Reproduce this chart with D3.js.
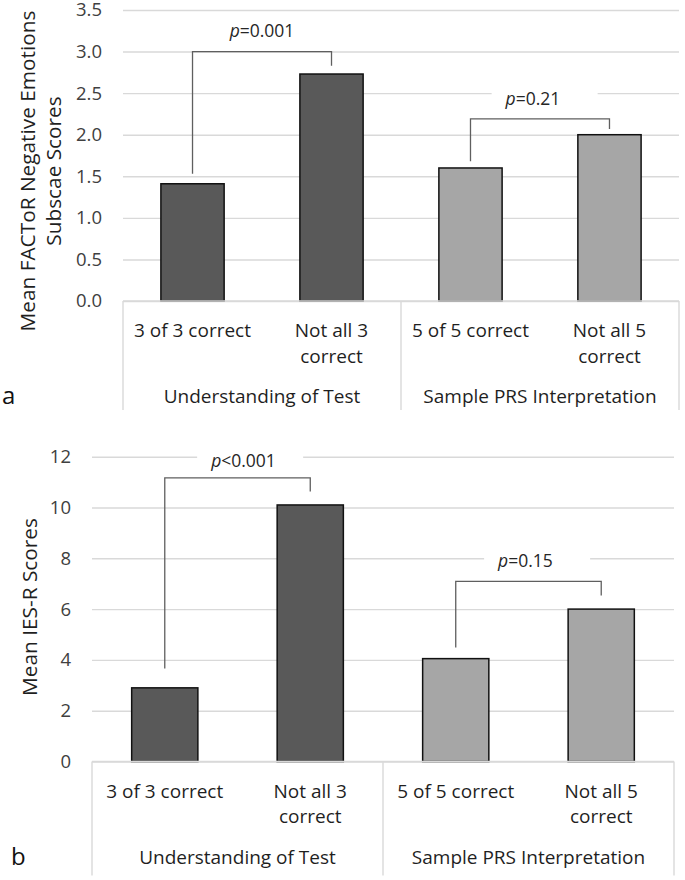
<!DOCTYPE html>
<html>
<head>
<meta charset="utf-8">
<script src="https://cdn.jsdelivr.net/npm/d3@7/dist/d3.min.js"></script>
<style>
  html, body { margin: 0; padding: 0; background: #fff; }
  svg { display: block; font-family: 'Open Sans', sans-serif; }
</style>
</head>
<body>
<svg id="chart" width="685" height="880"></svg>
<script>
// ---- data ----
const categories = ["3 of 3 correct", "Not all 3 correct", "5 of 5 correct", "Not all 5 correct"];
const categoryLines = [["3 of 3 correct"], ["Not all 3", "correct"], ["5 of 5 correct"], ["Not all 5", "correct"]];
const groups = ["Understanding of Test", "Sample PRS Interpretation"];
const groupOfCategory = [0, 0, 1, 1];

const factorValues = [1.41, 2.73, 1.60, 2.00];
const factorTicks = [0, 0.5, 1.0, 1.5, 2.0, 2.5, 3.0, 3.5];
const factorTitle = ["Mean FACToR Negative Emotions", "Subscae Scores"];
const factorPValues = ["p=0.001", "p=0.21"];
// brackets: [leftBottom, top, rightBottom, label level] in data units
const factorBrackets = [[1.53, 3.0, 2.83, 3.25], [1.68, 2.19, 2.07, 2.43]];

const iesValues = [2.9, 10.1, 4.05, 6.0];
const iesTicks = [0, 2, 4, 6, 8, 10, 12];
const iesTitle = ["Mean IES-R Scores"];
const iesPValues = ["p<0.001", "p=0.15"];
const iesBrackets = [[3.66, 11.17, 10.63, 11.85], [4.49, 7.09, 6.54, 7.91]];

const barColors = ["#595959", "#595959", "#a6a6a6", "#a6a6a6"];

const svg = d3.select("#chart");

function drawPanel(cfg) {
  const g = svg.append("g");
  const x = d3.scaleBand().domain(categories).range([cfg.left, cfg.right])
    .paddingInner(0.545).paddingOuter(0.2727);
  const xStep = d3.scaleBand().domain(categories).range([cfg.left, cfg.right]).padding(0);
  const y = d3.scaleLinear().domain([0, cfg.max]).range([cfg.bottom, cfg.top]);

  // gridlines + tick labels
  const axis = d3.axisLeft(y).tickValues(cfg.ticks)
    .tickFormat(cfg.fmt).tickSize(0).tickPadding(cfg.right - cfg.labelRight);
  const ag = g.append("g").attr("transform", `translate(${cfg.right},0)`).call(axis);
  ag.select(".domain").remove();
  ag.selectAll(".tick line").attr("stroke", "#d9d9d9").attr("stroke-width", 1.4)
    .attr("x1", 0).attr("x2", -(cfg.right - cfg.left));
  ag.selectAll(".tick text").attr("fill", "#404040").style("font-size", "18.5px")
    .style("font-family", "'Open Sans', sans-serif");

  // p-value labels with white text boxes
  cfg.brackets.forEach((b, i) => {
    const cx = (x(categories[2 * i]) + x(categories[2 * i + 1]) + x.bandwidth()) / 2 - cfg.labelShift[i];
    const lg = g.append("g");
    const t = lg.append("text").attr("x", cx).attr("y", y(b[3])).attr("dy", "0.35em")
      .attr("text-anchor", "middle").attr("fill", "#262626").style("font-size", "17.5px");
    t.append("tspan").style("font-style", "italic").text(cfg.pvals[i].charAt(0));
    t.append("tspan").text(cfg.pvals[i].slice(1));
    const w = t.node().getComputedTextLength();
    lg.insert("rect", ":first-child").attr("x", cx - w / 2 - 14).attr("y", y(b[3]) - 13)
      .attr("width", 106).attr("height", 26).attr("fill", "#fff");
  });

  // bars
  g.selectAll("rect.bar").data(cfg.values).enter().append("rect").attr("class", "bar")
    .attr("x", (d, i) => x(categories[i]))
    .attr("y", d => y(d))
    .attr("width", x.bandwidth())
    .attr("height", d => y(0) - y(d))
    .attr("fill", (d, i) => barColors[i])
    .attr("stroke", "#111").attr("stroke-width", 1.5);

  // brackets
  cfg.brackets.forEach((b, i) => {
    const xl = x(categories[2 * i]) + x.bandwidth() / 2;
    const xr = x(categories[2 * i + 1]) + x.bandwidth() / 2;
    g.append("path")
      .attr("d", `M${xl},${y(b[0])}V${y(b[1])}H${xr}V${y(b[2])}`)
      .attr("fill", "none").attr("stroke", "#5f5f5f").attr("stroke-width", 1.3);
  });

  // category axis box
  const boxBottom = cfg.bottom + cfg.boxDepth;
  const line = (x1, y1, x2, y2) => g.append("line").attr("x1", x1).attr("y1", y1).attr("x2", x2).attr("y2", y2)
    .attr("stroke", "#d9d9d9").attr("stroke-width", 1.4);
  line(cfg.left, cfg.bottom, cfg.right, cfg.bottom);
  line(cfg.left, cfg.bottom, cfg.left, boxBottom);
  line(xStep(categories[2]), cfg.bottom, xStep(categories[2]), boxBottom);
  line(cfg.right, cfg.bottom, cfg.right, boxBottom);

  // category labels
  categoryLines.forEach((lines, i) => {
    const cx = xStep(categories[i]) + xStep.bandwidth() / 2;
    lines.forEach((s, j) => {
      g.append("text").attr("x", cx).attr("y", cfg.bottom + 36 + j * 25.5)
        .attr("text-anchor", "middle").attr("fill", "#1f1f1f").style("font-size", "19px").text(s);
    });
  });
  // group labels
  groups.forEach((s, k) => {
    const idx = groupOfCategory.indexOf(k);
    const x0 = xStep(categories[idx]);
    const x1 = xStep(categories[idx + 1]) + xStep.bandwidth();
    g.append("text").attr("x", (x0 + x1) / 2).attr("y", cfg.bottom + 102)
      .attr("text-anchor", "middle").attr("fill", "#1f1f1f").style("font-size", "19px").text(s);
  });

  // y-axis title
  cfg.title.forEach((s, j) => {
    g.append("text").attr("transform", `translate(${cfg.titleX[j]},${cfg.titleY}) rotate(-90)`)
      .attr("dy", "0.35em").attr("text-anchor", "middle").attr("fill", "#1f1f1f")
      .style("font-size", "20.8px").text(s);
  });

  // panel letter
  g.append("text").attr("x", cfg.letterX).attr("y", cfg.bottom + 103).attr("fill", "#111")
    .style("font-size", "24px").text(cfg.letter);
}

drawPanel({
  values: factorValues, ticks: factorTicks, max: 3.5, fmt: d3.format(".1f"),
  left: 123, right: 679, top: 10, bottom: 301, labelRight: 102, boxDepth: 109,
  brackets: factorBrackets, pvals: factorPValues, labelShift: [0, 7],
  title: factorTitle, titleX: [28, 54], titleY: 171, letter: "a", letterX: 2
});

drawPanel({
  values: iesValues, ticks: iesTicks, max: 12, fmt: d3.format("d"),
  left: 92, right: 674, top: 456.7, bottom: 761.5, labelRight: 71, boxDepth: 114,
  brackets: iesBrackets, pvals: iesPValues, labelShift: [-6, 3],
  title: iesTitle, titleX: [30], titleY: 607, letter: "b", letterX: 11
});
</script>
</body>
</html>
